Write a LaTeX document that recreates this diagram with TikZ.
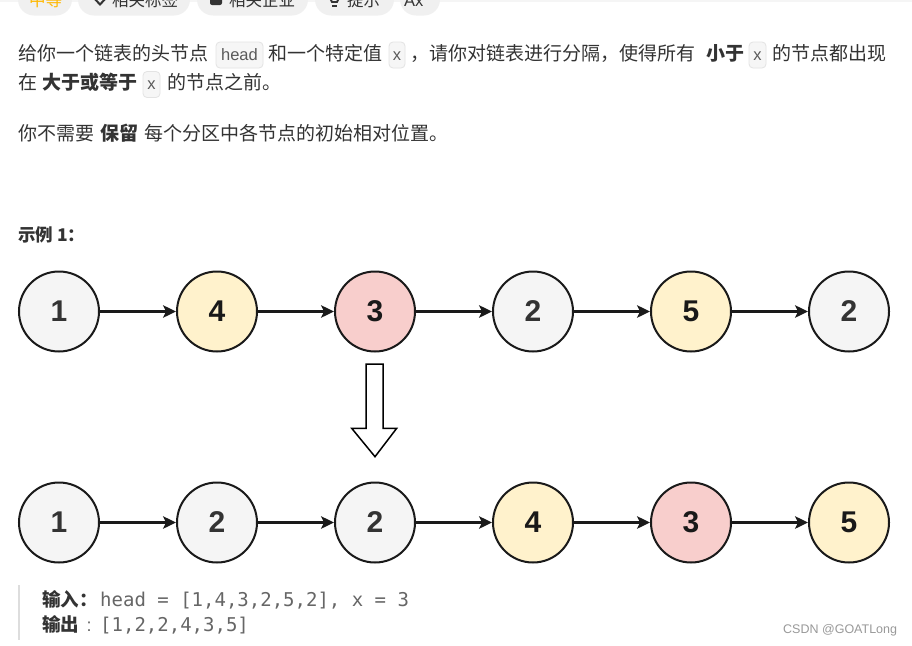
\documentclass[tikz,border=0pt]{standalone}
\usepackage{fontspec}
\setmainfont{Noto Sans CJK SC}
\newfontfamily\arialf{Liberation Sans}
\newfontfamily\monof{DejaVu Sans Mono}
\usetikzlibrary{arrows.meta}
\definecolor{txt}{HTML}{333333}
\definecolor{codefg}{HTML}{5A5A5A}
\definecolor{codebg}{HTML}{F6F6F6}
\definecolor{codebd}{HTML}{E3E3E3}
\definecolor{pillbg}{HTML}{F0F0F0}
\definecolor{orangeT}{HTML}{FFB800}
\definecolor{ngray}{HTML}{F5F5F5}
\definecolor{nyellow}{HTML}{FFF2CC}
\definecolor{npink}{HTML}{F8CECC}
\definecolor{nborder}{HTML}{1A1A1A}
\definecolor{quoteline}{HTML}{DDDDDD}
\definecolor{monogray}{HTML}{666666}
\definecolor{wm}{HTML}{999999}
\tikzset{
  t/.style={anchor=base west, inner sep=0pt, text=txt, font=\fontsize{19}{19}\selectfont},
  tb/.style={t, font=\fontsize{19}{19}\selectfont\bfseries},
  codebox/.style={fill=codebg, draw=codebd, line width=0.8pt, rounded corners=4pt},
  codetxt/.style={anchor=base, inner sep=0pt, text=codefg, font=\arialf\fontsize{16.5}{16.5}\selectfont},
  pill/.style={fill=pillbg, draw=none, rounded corners=16pt},
  pilltxt/.style={anchor=base west, inner sep=0pt, text=txt, font=\fontsize{16.5}{16.5}\selectfont},
  lnode/.style={circle, draw=nborder, line width=2pt, minimum size=80pt, inner sep=0pt,
    text=txt, font=\arialf\bfseries\fontsize{30}{30}\selectfont},
  gnode/.style={lnode, fill=ngray},
  ynode/.style={lnode, fill=nyellow, text=black!90},
  pnode/.style={lnode, fill=npink, text=black!90},
  link/.style={draw=nborder, line width=2.1pt, -{Stealth[length=13pt,width=12.5pt,inset=3pt]}},
  mono/.style={anchor=base west, inner sep=0pt, text=monogray, font=\monof\fontsize{19}{19}\selectfont},
}
\begin{document}
\begin{tikzpicture}[x=1pt,y=-1pt]
\useasboundingbox (0,0) rectangle (912,645);
\fill[white] (0,0) rectangle (912,645);
\begin{scope}
\clip (0,0) rectangle (912,645);
\fill[pillbg!70] (0,0) rectangle (912,1.6);
% top tab pills (cut off)
\fill[pill] (18,-18) rectangle (72,15.5);
\fill[pill] (78,-18) rectangle (190,15.5);
\fill[pill] (197,-18) rectangle (308,15.5);
\fill[pill] (315,-18) rectangle (394,15.5);
\fill[pill] (400,-18) rectangle (440,15.5);
\node[pilltxt, text=orangeT] (p1) at (29,6.3) {中等};
\draw[txt, line width=2pt] (93,-3) -- (100,4.5) -- (107,-3);
\node[pilltxt] (p2) at (112,6.3) {相关标签};
\fill[txt, rounded corners=2pt] (210,-10) rectangle (222,5);
\node[pilltxt] (p3) at (229,6.3) {相关企业};
\draw[txt, line width=1.8pt] (329,-4) -- (332,2) -- (337,2) -- (340,-4);
\draw[txt, line width=1.8pt] (332,6) -- (337,6);
\node[pilltxt] (p4) at (347,6.3) {提示};
\node[pilltxt, font=\arialf\fontsize{16.5}{16.5}\selectfont] (p5) at (404,6.3) {Ax};
\end{scope}

% paragraph line 1
\node[t] (l1a) at (18,60.2) {给你一个链表的头节点};
\draw[codebox] (216,42) rectangle (263,68);
\node[codetxt] (c1) at (239.5,60.2) {head};
\node[t] (l1b) at (268,60.2) {和一个特定值};
\draw[codebox] (389,42) rectangle (405,68);
\node[codetxt] (c2) at (397,60.2) {x};
\node[t] (l1c) at (410,60.2) {，请你对链表进行分隔，使得所有};
\node[tb] (l1d) at (706,60.2) {小于};
\draw[codebox] (749,42) rectangle (766,68);
\node[codetxt] (c3) at (757.5,60.2) {x};
\node[t] (l1e) at (772,60.2) {的节点都出现};
% line 2
\node[t] (l2a) at (18,89.7) {在};
\node[tb] (l2b) at (42,89.7) {大于或等于};
\draw[codebox] (143,71.5) rectangle (160,97.5);
\node[codetxt] (c4) at (151.5,89.7) {x};
\node[t] (l2c) at (167,89.7) {的节点之前。};
% line 3
\node[t] (l3a) at (18,140.3) {你不需要};
\node[tb] (l3b) at (100,140.3) {保留};
\node[t] (l3c) at (144,140.3) {每个分区中各节点的初始相对位置。};

% example title
\node[tb, font=\fontsize{17.5}{17.5}\selectfont\bfseries] (ex) at (18,241.8) {示例 1：};

% top list
\node[gnode] (t1) at (59,311.5) {1};
\node[ynode] (t2) at (217,311.5) {4};
\node[pnode] (t3) at (375,311.5) {3};
\node[gnode] (t4) at (533,311.5) {2};
\node[ynode] (t5) at (691,311.5) {5};
\node[gnode] (t6) at (849,311.5) {2};
\foreach \a/\b in {t1/t2,t2/t3,t3/t4,t4/t5,t5/t6} \draw[link] (\a) -- (\b);

% hollow down arrow
\draw[line width=1.5pt, fill=white, line join=miter]
  (366,364) -- (383,364) -- (383,428.3) -- (396.7,428.3) -- (375,456.7)
  -- (351.7,428.3) -- (366,428.3) -- cycle;

% bottom list
\node[gnode] (b1) at (59,522.5) {1};
\node[gnode] (b2) at (217,522.5) {2};
\node[gnode] (b3) at (375,522.5) {2};
\node[ynode] (b4) at (533,522.5) {4};
\node[pnode] (b5) at (691,522.5) {3};
\node[ynode] (b6) at (849,522.5) {5};
\foreach \a/\b in {b1/b2,b2/b3,b3/b4,b4/b5,b5/b6} \draw[link] (\a) -- (\b);

% input / output block
\draw[quoteline, line width=2pt] (19,585) -- (19,640);
\node[tb, font=\fontsize{18.5}{18.5}\selectfont\bfseries] (in) at (42,606.5) {输入：};
\node[mono] (inv) at (100,606.5) {head = [1,4,3,2,5,2], x = 3};
\node[tb, font=\fontsize{18.5}{18.5}\selectfont\bfseries] (out) at (42,631.5) {输出};
\node[anchor=base west, inner sep=0pt, text=monogray, font=\arialf\fontsize{18}{18}\selectfont] (oc) at (86.5,631.5) {:};
\node[mono] (outv) at (100,631.5) {[1,2,2,4,3,5]};

% watermark
\node[anchor=base west, inner sep=0pt, text=wm, font=\arialf\fontsize{12.5}{12.5}\selectfont] (wmk) at (783,633) {CSDN @GOATLong};
\end{tikzpicture}
\end{document}
